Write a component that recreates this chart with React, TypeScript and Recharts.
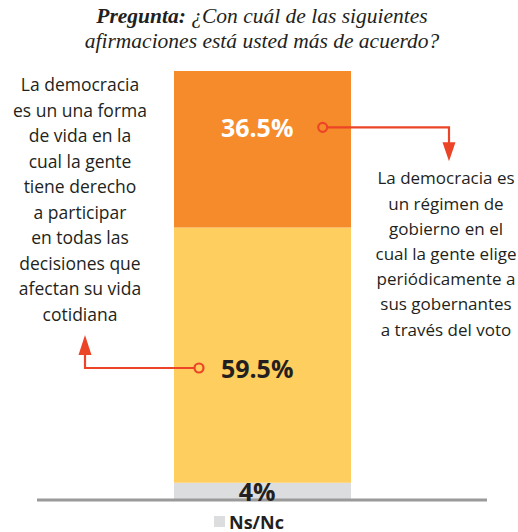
import React from "react";
import { BarChart, Bar, XAxis, YAxis, LabelList, Legend } from "recharts";

// survey answer shares (%)
const categories = ["Pregunta"];
const nsncValues = [4];
const formaDeVidaValues = [59.5];
const regimenValues = [36.5];

const TITLE_BOLD = "Pregunta:";
const TITLE_LINE1 = " ¿Con cuál de las siguientes";
const TITLE_LINE2 = "afirmaciones está usted más de acuerdo?";

const leftLines = [
  "La democracia",
  "es un una forma",
  "de vida en la",
  "cual la gente",
  "tiene derecho",
  "a participar",
  "en todas las",
  "decisiones que",
  "afectan su vida",
  "cotidiana",
];

const rightLines = [
  "La democracia es",
  "un régimen de",
  "gobierno en el",
  "cual la gente elige",
  "periódicamente a",
  "sus gobernantes",
  "a través del voto",
];

const data = categories.map((name, i) => ({
  name,
  nsnc: nsncValues[i],
  vida: formaDeVidaValues[i],
  regimen: regimenValues[i],
}));

const ORANGE = "#F68B2B";
const YELLOW = "#FECE5E";
const GRAY = "#DCDDDE";
const RED = "#EC4426";
const DARK = "#231F20";
const BODY_FONT = "'Open Sans', sans-serif";

const pct = (v: number) => `${v}%`;

function RegimenLabel(props: any) {
  const { x, y, width, height, value } = props;
  const ty = y + height * 0.36;
  const cx = x + width * 0.84;
  const turnX = x + width + 98;
  return (
    <g>
      <text x={x + width * 0.47} y={ty} textAnchor="middle" dominantBaseline="central"
        fill="#fff" fontFamily={BODY_FONT} fontWeight={700} fontSize={25}>
        {pct(value)}
      </text>
      <polyline points={`${cx + 5},${ty} ${turnX},${ty} ${turnX},${ty + 16}`}
        fill="none" stroke={RED} strokeWidth={2.2} />
      <circle cx={cx} cy={ty} r={4.5} fill="none" stroke={RED} strokeWidth={2.2} />
      <polygon points={`${turnX - 6.5},${ty + 15} ${turnX + 6.5},${ty + 15} ${turnX},${ty + 34}`} fill={RED} />
      <text x={turnX - 3} textAnchor="middle" fill={DARK} fontFamily={BODY_FONT} fontSize={17}>
        {rightLines.map((l, i) => (
          <tspan key={i} x={turnX - 3} y={ty + 57 + i * 25.2}>{l}</tspan>
        ))}
      </text>
    </g>
  );
}

function VidaLabel(props: any) {
  const { x, y, width, height, value } = props;
  const ty = y + height * 0.55;
  const cx = x + 25;
  const turnX = 85;
  return (
    <g>
      <text x={x + width * 0.47} y={ty} textAnchor="middle" dominantBaseline="central"
        fill={DARK} fontFamily={BODY_FONT} fontWeight={700} fontSize={25}>
        {pct(value)}
      </text>
      <polyline points={`${cx - 5},${ty} ${turnX},${ty} ${turnX},${ty - 16}`}
        fill="none" stroke={RED} strokeWidth={2.2} />
      <circle cx={cx} cy={ty} r={4.5} fill="none" stroke={RED} strokeWidth={2.2} />
      <polygon points={`${turnX - 6.5},${ty - 13} ${turnX + 6.5},${ty - 13} ${turnX},${ty - 33}`} fill={RED} />
      <text x={80} textAnchor="middle" fill={DARK} fontFamily={BODY_FONT} fontSize={17.5}>
        {leftLines.map((l, i) => (
          <tspan key={i} x={80} y={91 + i * 25.5}>{l}</tspan>
        ))}
      </text>
    </g>
  );
}

function NsncLabel(props: any) {
  const { x, y, width, height, value } = props;
  return (
    <text x={x + width * 0.47} y={y + height / 2} textAnchor="middle" dominantBaseline="central"
      fill={DARK} fontFamily={BODY_FONT} fontWeight={700} fontSize={25}>
      {pct(value)}
    </text>
  );
}

function LegendContent() {
  return (
    <div style={{ height: 29, paddingLeft: 177, display: "flex", alignItems: "center", boxSizing: "border-box", paddingTop: 8 }}>
      <span style={{ display: "inline-block", width: 11, height: 11, background: GRAY, marginRight: 4 }} />
      <span style={{ fontFamily: BODY_FONT, fontWeight: 700, fontSize: 18, lineHeight: "18px", color: DARK }}>Ns/Nc</span>
    </div>
  );
}

export default function App() {
  return (
    <div style={{ position: "absolute", left: 0, top: 0, width: 518, height: 532, background: "#fff" }}>
      <div style={{ position: "absolute", left: 0, top: 4, width: 524, textAlign: "center", fontFamily: "'Liberation Serif', serif", fontStyle: "italic", fontSize: 21.5, lineHeight: "25px", color: DARK }}>
        <div><b>{TITLE_BOLD}</b>{TITLE_LINE1}</div>
        <div>{TITLE_LINE2}</div>
      </div>
      <BarChart width={518} height={532} data={data} barCategoryGap={0}
        margin={{ top: 71, right: 31, bottom: 0, left: 37 }}>
        <XAxis dataKey="name" tick={false} tickLine={false} axisLine={{ stroke: "#9A9A9A", strokeWidth: 3 }} height={3} />
        <YAxis hide domain={[0, 100]} />
        <Legend verticalAlign="bottom" content={<LegendContent />} />
        <Bar dataKey="nsnc" stackId="a" fill={GRAY} barSize={177} isAnimationActive={false}>
          <LabelList dataKey="nsnc" content={<NsncLabel />} />
        </Bar>
        <Bar dataKey="vida" stackId="a" fill={YELLOW} barSize={177} isAnimationActive={false}>
          <LabelList dataKey="vida" content={<VidaLabel />} />
        </Bar>
        <Bar dataKey="regimen" stackId="a" fill={ORANGE} barSize={177} isAnimationActive={false}>
          <LabelList dataKey="regimen" content={<RegimenLabel />} />
        </Bar>
      </BarChart>
    </div>
  );
}
